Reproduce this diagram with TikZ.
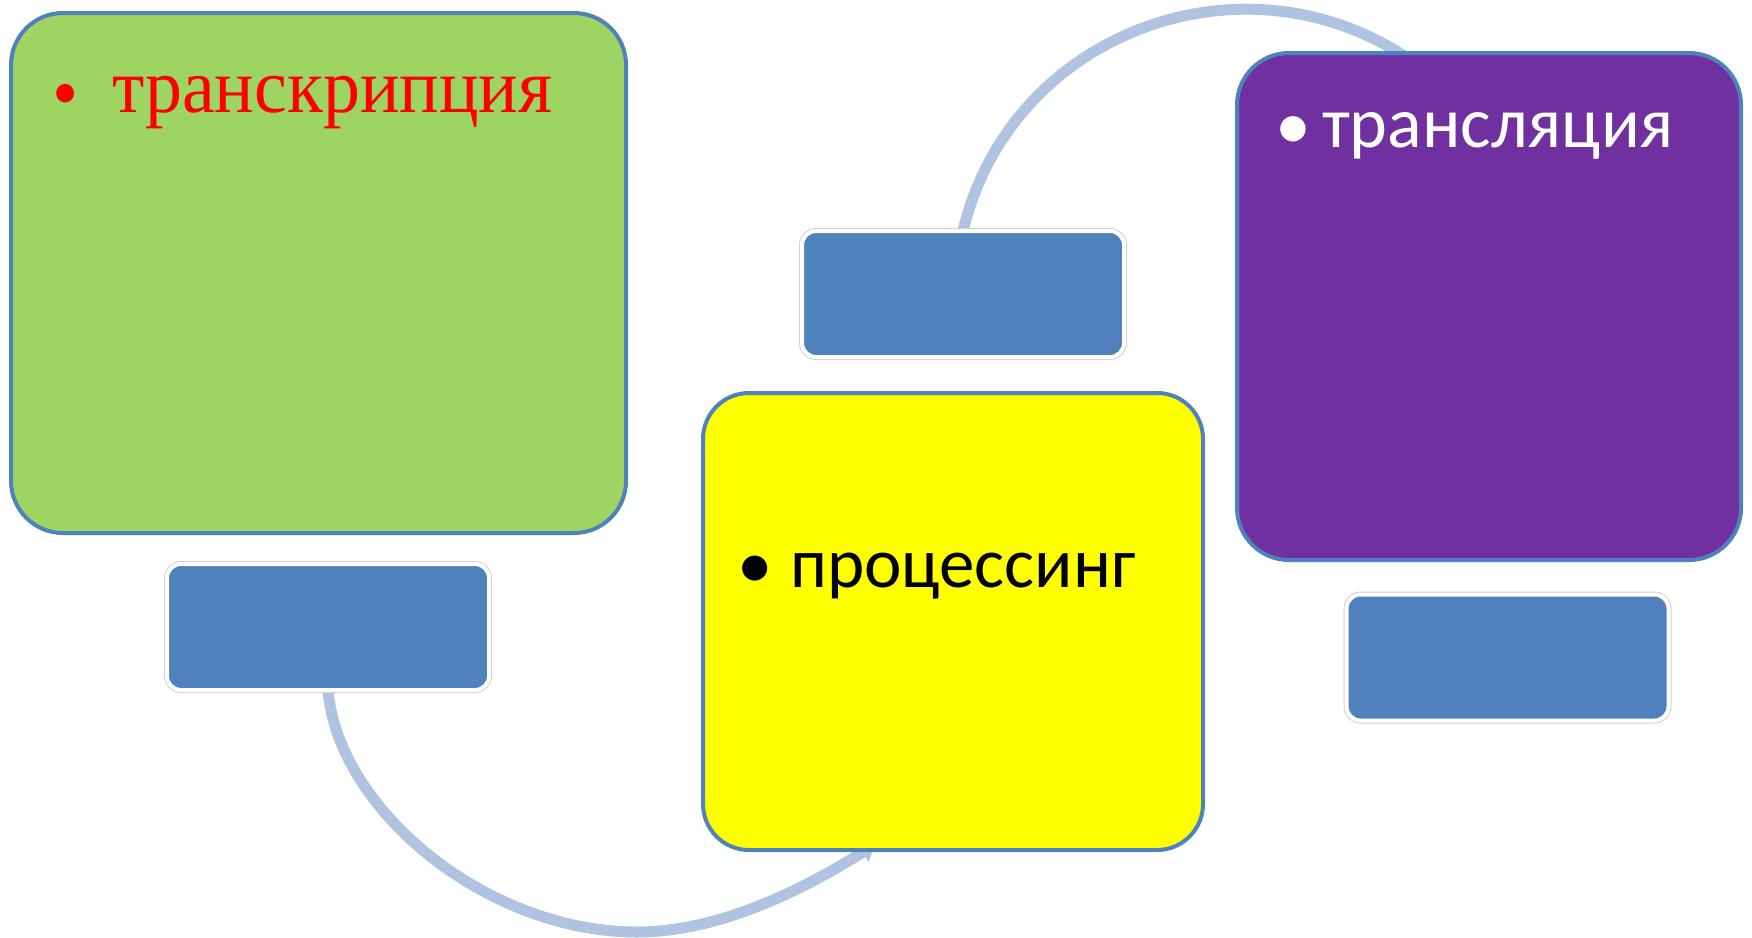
\documentclass[tikz,border=0pt]{standalone}
\usepackage{fontspec}
\usetikzlibrary{arrows.meta,calc}
\newfontfamily\serifru[FakeStretch=0.96]{Liberation Serif}
\newfontfamily\sansru{Carlito}
\definecolor{boxline}{RGB}{79,129,189}
\definecolor{bluefill}{RGB}{79,129,189}
\definecolor{greenfill}{RGB}{158,213,98}
\definecolor{purplefill}{RGB}{112,48,160}
\definecolor{yelfill}{RGB}{255,255,0}
\definecolor{connblue}{RGB}{176,196,226}
\definecolor{txtred}{RGB}{255,0,0}
\pgfdeclarelayer{back}
\pgfdeclarelayer{conn}
\pgfsetlayers{back,conn,main}
\tikzset{
  bigbox/.style={draw=boxline, line width=4pt, rounded corners=52pt, inner sep=0pt, outer sep=0pt},
  smallbox/.style={fill=bluefill, draw=white, line width=4pt, rounded corners=14pt,
    preaction={draw=black!18, line width=6pt}, inner sep=0pt, outer sep=0pt,
    minimum width=322pt, minimum height=126pt},
  connline/.style={draw=connblue, line width=11pt},
  txt/.style={inner sep=0pt, outer sep=0pt, anchor=base west},
  bul/.style={inner sep=0pt, outer sep=0pt, anchor=center},
}
\begin{document}
\begin{tikzpicture}[x=1pt,y=-1pt]
\begin{pgfonlayer}{back}
\fill[white] (0,0) rectangle (1752,937);
\end{pgfonlayer}
\useasboundingbox (0,0) rectangle (1752,937);
% big boxes
\node[bigbox, fill=greenfill, minimum width=615pt, minimum height=520pt] (green) at (318.5,273) {};
\node[bigbox, fill=yelfill, minimum width=500pt, minimum height=457pt, rounded corners=46pt] (yel) at (953,621.5) {};
\node[bigbox, fill=purplefill, minimum width=504pt, minimum height=507pt] (pur) at (1489,306.5) {};
% small boxes
\node[smallbox] (b1) at (328,627) {};
\node[smallbox] (b2) at (963,294) {};
\node[smallbox] (b3) at (1507.5,657.5) {};
% texts
\node[bul, text=txtred] (trb) at (66,102) {\serifru\fontsize{78}{80}\selectfont •};
\node[txt, text=txtred] (trt) at (112,112) {\serifru\fontsize{77}{80}\selectfont транскрипция};
\node[bul, text=black] (prb) at (755,572) {\sansru\fontsize{71}{73}\selectfont •};
\node[txt, text=black] (prt) at (790,587) {\sansru\fontsize{71}{73}\selectfont процессинг};
\node[bul, text=white] (tlb) at (1293,133) {\sansru\fontsize{72}{74}\selectfont •};
\node[txt, text=white] (tlt) at (1322,147) {\sansru\fontsize{72}{74}\selectfont трансляция};
% connectors
\coordinate (yin) at ($(yel.south west)!0.335!(yel.south east)+(4,-5)$);
\coordinate (pin) at ($(pur.north west)!0.335!(pur.north east)+(0,4)$);
\coordinate (low) at (637,932);
\begin{pgfonlayer}{conn}
\draw[connline] (b1.south) .. controls +(10,120) and +(-150,0) .. (low);
\draw[connline, -{Triangle[length=14pt,width=22pt]}] (low) .. controls +(90,0) and +(-58,36) .. (yin);
\draw[connline] (b2.north) .. controls +(46,-195) and +(-168,-110) .. (pin);
\end{pgfonlayer}
\end{tikzpicture}
\end{document}
